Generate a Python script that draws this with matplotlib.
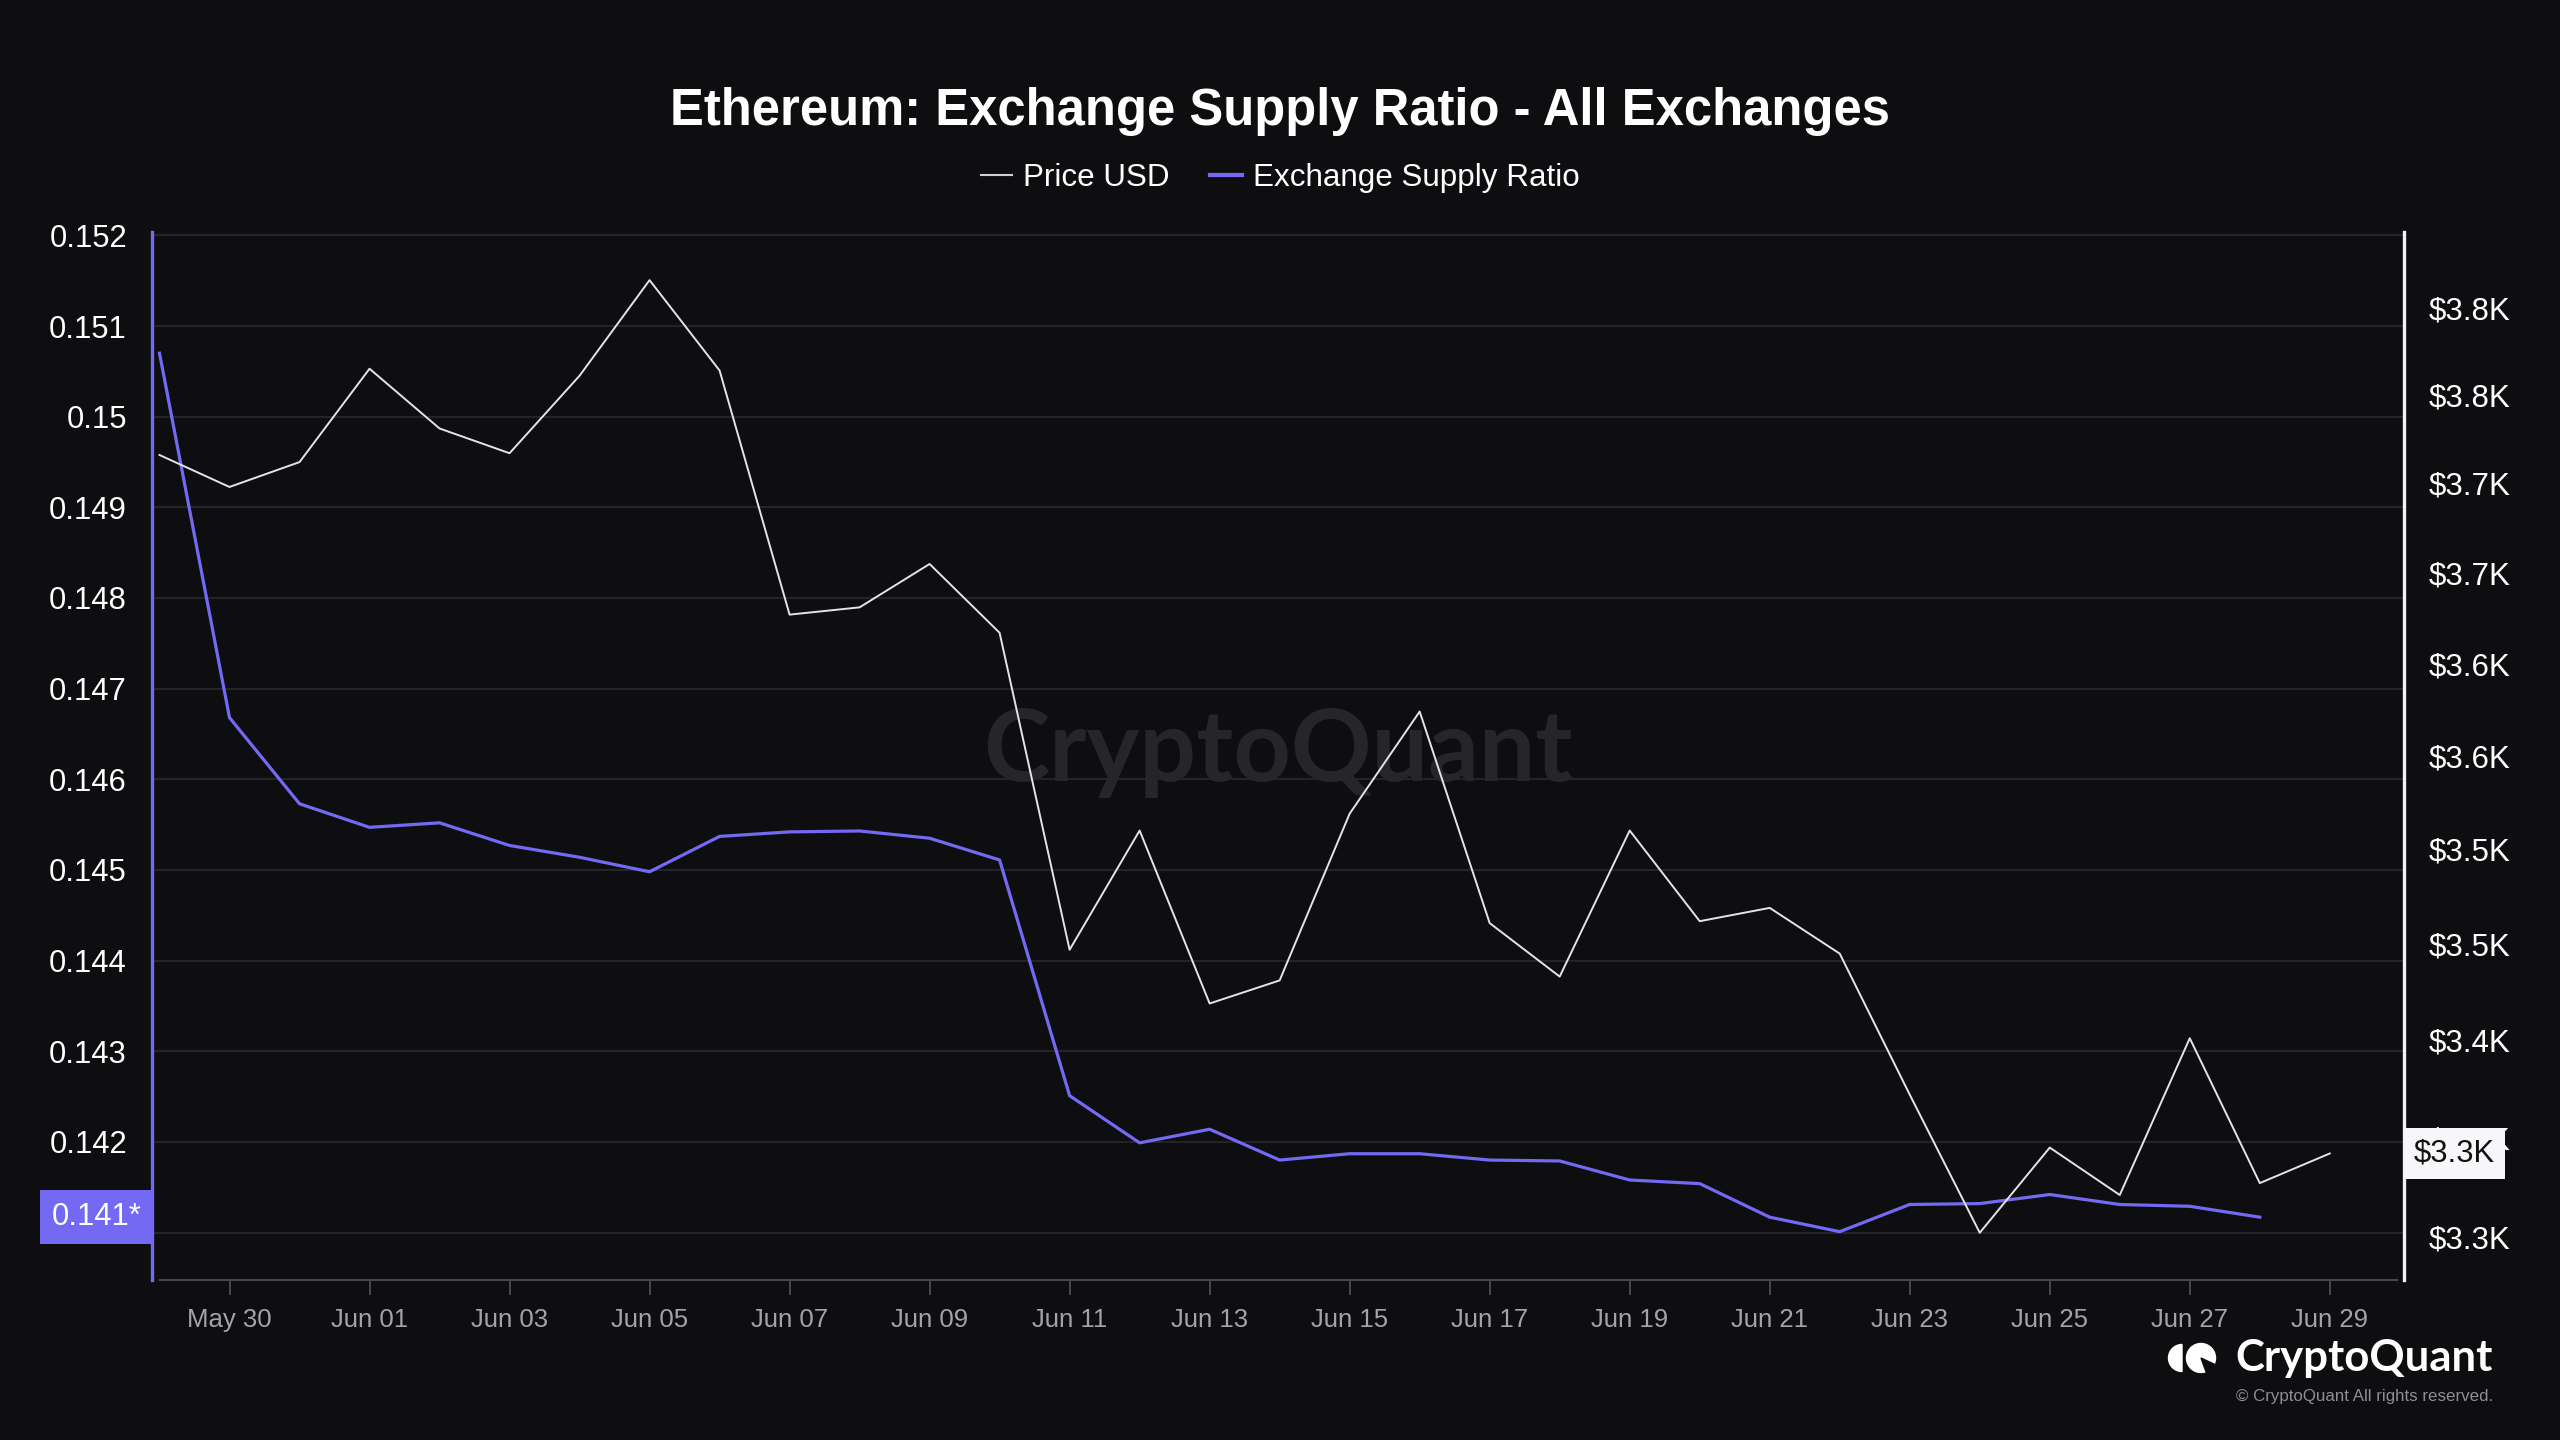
import matplotlib
matplotlib.use("Agg")
import matplotlib.pyplot as plt
import matplotlib.dates as mdates
import matplotlib.transforms as mtransforms
from matplotlib.ticker import FixedLocator, NullLocator, FixedFormatter
from matplotlib.patches import Wedge, Circle
from matplotlib.lines import Line2D
import pandas as pd

# ---------------- data ----------------
dates = pd.date_range("2024-05-29", "2024-06-29", freq="D")

price_usd = [3716, 3698, 3712, 3765, 3731, 3717, 3761, 3816, 3764, 3627,
             3631, 3655, 3617, 3447, 3510, 3419, 3431, 3519, 3574, 3461,
             3433, 3510, 3462, 3469, 3445, 3372, 3302, 3345, 3321, 3401,
             3327, 3342]

exchange_supply_ratio = [0.15070, 0.14668, 0.14573, 0.14547, 0.14552, 0.14527,
                         0.14514, 0.14498, 0.14537, 0.14542, 0.14543, 0.14535,
                         0.14511, 0.14251, 0.14199, 0.14214, 0.14180, 0.14187,
                         0.14187, 0.14180, 0.14179, 0.14158, 0.14154, 0.14117,
                         0.14101, 0.14131, 0.14132, 0.14142, 0.14131, 0.14129,
                         0.14117]

x_tick_labels = ["May 30", "Jun 01", "Jun 03", "Jun 05", "Jun 07", "Jun 09",
                 "Jun 11", "Jun 13", "Jun 15", "Jun 17", "Jun 19", "Jun 21",
                 "Jun 23", "Jun 25", "Jun 27", "Jun 29"]

ratio_ticks = [0.141, 0.142, 0.143, 0.144, 0.145, 0.146, 0.147, 0.148,
               0.149, 0.150, 0.151, 0.152]
ratio_tick_labels = ["0.141", "0.142", "0.143", "0.144", "0.145", "0.146",
                     "0.147", "0.148", "0.149", "0.15", "0.151", "0.152"]

price_ticks = [3300, 3350, 3400, 3450, 3500, 3550, 3600, 3650, 3700, 3750, 3800]
price_tick_labels = ["$3.3K", "$3.4K", "$3.4K", "$3.5K", "$3.5K", "$3.6K",
                     "$3.6K", "$3.7K", "$3.7K", "$3.8K", "$3.8K"]

ratio_last_label = "0.141*"
price_last_label = "$3.3K"

# ---------------- style ----------------
BG = "#0e0e11"
PURPLE = "#7469f2"
WHITE_LINE = "#e4e4e8"
GRID = "#26262b"
AXIS_GRAY = "#46464c"
TICK_TXT_GRAY = "#a3a3ab"
FONT = "Liberation Sans"

plt.rcParams["font.family"] = [FONT, "DejaVu Sans"]

W, H, DPI = 2560, 1440, 100
fig = plt.figure(figsize=(W / DPI, H / DPI), dpi=DPI, facecolor=BG)

left_px, right_px, top_px, bottom_px = 152, 2404, 232, 1280
ax = fig.add_axes([left_px / W, 1 - bottom_px / H,
                   (right_px - left_px) / W, (bottom_px - top_px) / H])
ax.set_facecolor(BG)
ax2 = ax.twinx()

xnum = mdates.date2num(dates)
ax.plot(dates[:len(exchange_supply_ratio)], exchange_supply_ratio,
        color=PURPLE, lw=2.3, solid_joinstyle="round", zorder=3)
ax2.plot(dates, price_usd, color=WHITE_LINE, lw=1.4,
         solid_joinstyle="round", zorder=3)

ax.set_xlim(xnum[0] - 0.107, xnum[0] + 32.06)
ax.set_ylim(0.140477, 0.152037)
ax2.set_yscale("log")
ax2.set_ylim(3278.4, 3844.0)

# x axis
ax.xaxis.set_major_locator(FixedLocator(list(xnum[1::2])))
ax.xaxis.set_major_formatter(FixedFormatter(x_tick_labels))
ax.xaxis.set_minor_locator(NullLocator())
ax.tick_params(axis="x", direction="out", length=11, width=1.4,
               color=AXIS_GRAY, labelcolor=TICK_TXT_GRAY, labelsize=18.5, pad=9)

# left y axis
ax.yaxis.set_major_locator(FixedLocator(ratio_ticks))
ax.yaxis.set_major_formatter(FixedFormatter(ratio_tick_labels))
ax.yaxis.set_minor_locator(NullLocator())
ax.tick_params(axis="y", length=0, labelcolor="white", labelsize=22.3, pad=18)
ax.grid(axis="y", color=GRID, lw=1.3)
ax.grid(axis="x", visible=False)
ax.set_axisbelow(True)

# right y axis
ax2.yaxis.set_major_locator(FixedLocator(price_ticks))
ax2.yaxis.set_major_formatter(FixedFormatter(price_tick_labels))
ax2.yaxis.set_minor_locator(NullLocator())
ax2.tick_params(axis="y", which="both", length=0, labelcolor="white",
                labelsize=22.5, pad=18)

# spines
for s in ["top", "right"]:
    ax.spines[s].set_visible(False)
for s in ["top", "left", "bottom"]:
    ax2.spines[s].set_visible(False)
ax.spines["left"].set_color(PURPLE)
ax.spines["left"].set_linewidth(2.4)
ax.spines["bottom"].set_color(AXIS_GRAY)
ax.spines["bottom"].set_linewidth(1.5)
ax.spines["bottom"].set_bounds(xnum[0] + 0.006, xnum[0] + 31.96)
ax2.spines["right"].set_color("#f2f2f4")
ax2.spines["right"].set_linewidth(2.4)

# watermark
ax.text(0.5, 0.476, "CryptoQuant", transform=ax.transAxes, ha="center",
        va="baseline", fontsize=72, color="#25252a", fontweight="bold",
        family=["Lato", "DejaVu Sans"], zorder=1)

# last value labels
blend_l = mtransforms.blended_transform_factory(ax.transAxes, ax.transData)
ax.text(-0.0046, exchange_supply_ratio[-1], ratio_last_label, transform=blend_l,
        ha="right", va="center", fontsize=22.3, color="white",
        bbox=dict(boxstyle="square,pad=0.38", fc=PURPLE, ec="none"),
        clip_on=False, zorder=10)
blend_r = mtransforms.blended_transform_factory(ax2.transAxes, ax2.transData)
ax2.text(1.0045, price_usd[-1], price_last_label, transform=blend_r,
         ha="left", va="center", fontsize=22.3, color="#111111",
         bbox=dict(boxstyle="square,pad=0.33", fc="#f7f7fa", ec="none"),
         clip_on=False, zorder=10)

# title
fig.text(0.5, 1 - 124.5 / H, "Ethereum: Exchange Supply Ratio - All Exchanges",
         ha="center", va="baseline", fontsize=36.5, fontweight="bold", color="white")

# legend
handles = [Line2D([], [], color="#cfcfd4", lw=1.5),
           Line2D([], [], color=PURPLE, lw=3)]
leg = fig.legend(handles, ["Price USD", "Exchange Supply Ratio"], loc="center",
                 bbox_to_anchor=(0.5, 1 - 178 / H), ncol=2, frameon=False,
                 fontsize=22.6, handlelength=1.0, handletextpad=0.35,
                 columnspacing=1.3, labelcolor="white")

# logo (bottom right)
fig.text(2493 / W, 1 - 1371 / H, "CryptoQuant", ha="right", va="baseline",
         fontsize=31.5, color="white", fontweight="bold",
         family=["Lato", "DejaVu Sans"])
fig.text(2493 / W, 1 - 1401 / H, "\u00a9 CryptoQuant All rights reserved.",
         ha="right", va="baseline", fontsize=12.2, color="#8d8d94")
lax = fig.add_axes([2160 / W, 1 - 1375 / H, 64 / W, 34 / H])
lax.set_xlim(0, 64)
lax.set_ylim(0, 34)
lax.axis("off")
lax.add_patch(Wedge((22, 17), 13.5, 90, 270, color="white"))
lax.add_patch(Circle((41, 17), 14.5, color="white"))
lax.add_patch(Wedge((41, 17), 16, 290, 335, color=BG))

fig.savefig("out.png", dpi=DPI, facecolor=BG)
